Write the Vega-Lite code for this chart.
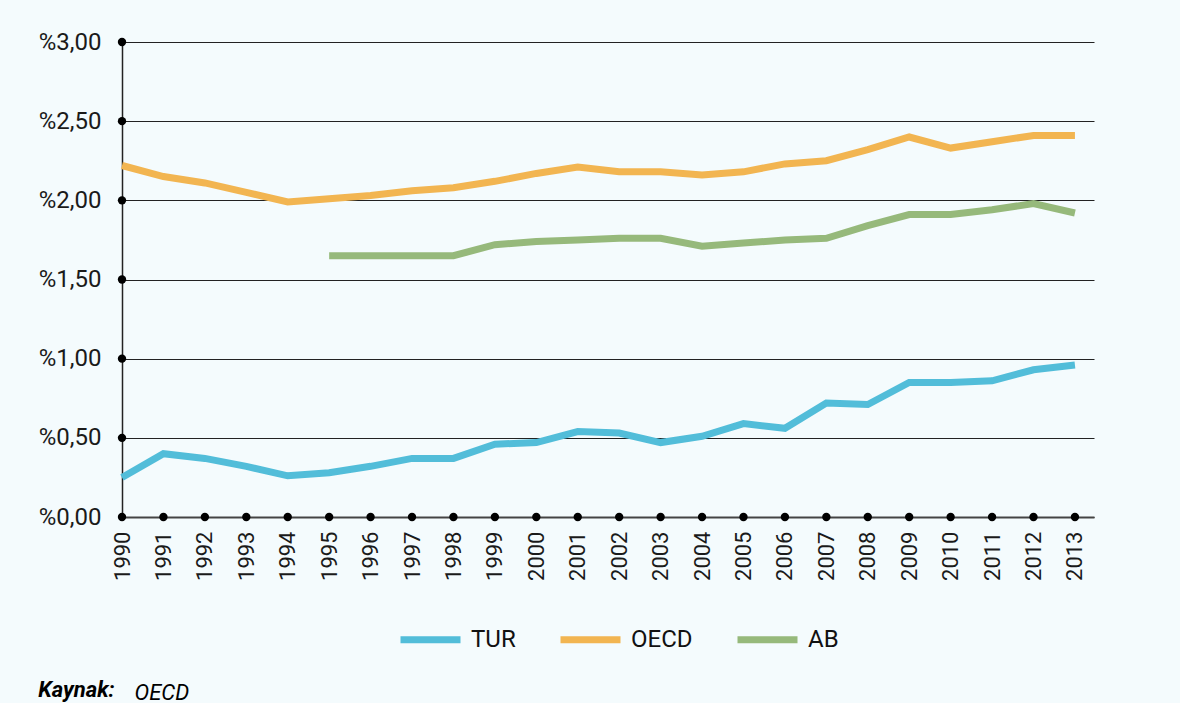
{
  "$schema": "https://vega.github.io/schema/vega-lite/v6.json",
  "width": 972,
  "height": 475,
  "padding": {"left": 38, "top": 30, "right": 86, "bottom": 0},
  "background": "#f4fbfd",
  "config": {
    "view": {"stroke": null},
    "font": "Roboto",
    "axis": {"labelFont": "Roboto", "labelColor": "#1a1a1a"}
  },
  "title": {
    "text": "Kaynak:",
    "orient": "bottom",
    "anchor": "start",
    "frame": "bounds",
    "offset": -23,
    "font": "Roboto",
    "fontSize": 22,
    "fontWeight": "bold",
    "fontStyle": "italic",
    "color": "#000000"
  },
  "datasets": {
    "series": [
      {"year": 1990, "country": "TUR", "value": 0.25},
      {"year": 1991, "country": "TUR", "value": 0.40},
      {"year": 1992, "country": "TUR", "value": 0.37},
      {"year": 1993, "country": "TUR", "value": 0.32},
      {"year": 1994, "country": "TUR", "value": 0.26},
      {"year": 1995, "country": "TUR", "value": 0.28},
      {"year": 1996, "country": "TUR", "value": 0.32},
      {"year": 1997, "country": "TUR", "value": 0.37},
      {"year": 1998, "country": "TUR", "value": 0.37},
      {"year": 1999, "country": "TUR", "value": 0.46},
      {"year": 2000, "country": "TUR", "value": 0.47},
      {"year": 2001, "country": "TUR", "value": 0.54},
      {"year": 2002, "country": "TUR", "value": 0.53},
      {"year": 2003, "country": "TUR", "value": 0.47},
      {"year": 2004, "country": "TUR", "value": 0.51},
      {"year": 2005, "country": "TUR", "value": 0.59},
      {"year": 2006, "country": "TUR", "value": 0.56},
      {"year": 2007, "country": "TUR", "value": 0.72},
      {"year": 2008, "country": "TUR", "value": 0.71},
      {"year": 2009, "country": "TUR", "value": 0.85},
      {"year": 2010, "country": "TUR", "value": 0.85},
      {"year": 2011, "country": "TUR", "value": 0.86},
      {"year": 2012, "country": "TUR", "value": 0.93},
      {"year": 2013, "country": "TUR", "value": 0.96},
      {"year": 1990, "country": "OECD", "value": 2.22},
      {"year": 1991, "country": "OECD", "value": 2.15},
      {"year": 1992, "country": "OECD", "value": 2.11},
      {"year": 1993, "country": "OECD", "value": 2.05},
      {"year": 1994, "country": "OECD", "value": 1.99},
      {"year": 1995, "country": "OECD", "value": 2.01},
      {"year": 1996, "country": "OECD", "value": 2.03},
      {"year": 1997, "country": "OECD", "value": 2.06},
      {"year": 1998, "country": "OECD", "value": 2.08},
      {"year": 1999, "country": "OECD", "value": 2.12},
      {"year": 2000, "country": "OECD", "value": 2.17},
      {"year": 2001, "country": "OECD", "value": 2.21},
      {"year": 2002, "country": "OECD", "value": 2.18},
      {"year": 2003, "country": "OECD", "value": 2.18},
      {"year": 2004, "country": "OECD", "value": 2.16},
      {"year": 2005, "country": "OECD", "value": 2.18},
      {"year": 2006, "country": "OECD", "value": 2.23},
      {"year": 2007, "country": "OECD", "value": 2.25},
      {"year": 2008, "country": "OECD", "value": 2.32},
      {"year": 2009, "country": "OECD", "value": 2.40},
      {"year": 2010, "country": "OECD", "value": 2.33},
      {"year": 2011, "country": "OECD", "value": 2.37},
      {"year": 2012, "country": "OECD", "value": 2.41},
      {"year": 2013, "country": "OECD", "value": 2.41},
      {"year": 1995, "country": "AB", "value": 1.65},
      {"year": 1996, "country": "AB", "value": 1.65},
      {"year": 1997, "country": "AB", "value": 1.65},
      {"year": 1998, "country": "AB", "value": 1.65},
      {"year": 1999, "country": "AB", "value": 1.72},
      {"year": 2000, "country": "AB", "value": 1.74},
      {"year": 2001, "country": "AB", "value": 1.75},
      {"year": 2002, "country": "AB", "value": 1.76},
      {"year": 2003, "country": "AB", "value": 1.76},
      {"year": 2004, "country": "AB", "value": 1.71},
      {"year": 2005, "country": "AB", "value": 1.73},
      {"year": 2006, "country": "AB", "value": 1.75},
      {"year": 2007, "country": "AB", "value": 1.76},
      {"year": 2008, "country": "AB", "value": 1.84},
      {"year": 2009, "country": "AB", "value": 1.91},
      {"year": 2010, "country": "AB", "value": 1.91},
      {"year": 2011, "country": "AB", "value": 1.94},
      {"year": 2012, "country": "AB", "value": 1.98},
      {"year": 2013, "country": "AB", "value": 1.92}
    ],
    "xdots": [
      {"year": 1990, "value": 0}, {"year": 1991, "value": 0}, {"year": 1992, "value": 0},
      {"year": 1993, "value": 0}, {"year": 1994, "value": 0}, {"year": 1995, "value": 0},
      {"year": 1996, "value": 0}, {"year": 1997, "value": 0}, {"year": 1998, "value": 0},
      {"year": 1999, "value": 0}, {"year": 2000, "value": 0}, {"year": 2001, "value": 0},
      {"year": 2002, "value": 0}, {"year": 2003, "value": 0}, {"year": 2004, "value": 0},
      {"year": 2005, "value": 0}, {"year": 2006, "value": 0}, {"year": 2007, "value": 0},
      {"year": 2008, "value": 0}, {"year": 2009, "value": 0}, {"year": 2010, "value": 0},
      {"year": 2011, "value": 0}, {"year": 2012, "value": 0}, {"year": 2013, "value": 0}
    ],
    "ydots": [
      {"year": 1990, "value": 0.5}, {"year": 1990, "value": 1.0}, {"year": 1990, "value": 1.5},
      {"year": 1990, "value": 2.0}, {"year": 1990, "value": 2.5}, {"year": 1990, "value": 3.0}
    ]
  },
  "encoding": {
    "x": {
      "field": "year",
      "type": "quantitative",
      "scale": {"domain": [1990, 2013.46], "nice": false, "zero": false},
      "axis": {
        "title": "OECD",
        "titleX": 12,
        "titleY": 175,
        "titleAlign": "left",
        "titleBaseline": "middle",
        "titleFont": "Roboto",
        "titleFontSize": 22,
        "titleFontStyle": "italic",
        "titleFontWeight": "normal",
        "titleColor": "#000000",
        "values": [1990,1991,1992,1993,1994,1995,1996,1997,1998,1999,2000,2001,2002,2003,2004,2005,2006,2007,2008,2009,2010,2011,2012,2013],
        "format": "d",
        "labelAngle": -90,
        "labelAlign": "right",
        "labelBaseline": "middle",
        "labelFontSize": 22,
        "labelPadding": 14,
        "ticks": false,
        "grid": false,
        "domainColor": "#444444",
        "domainWidth": 2,
        "labelOverlap": false,
        "labelFlush": false
      }
    },
    "y": {
      "field": "value",
      "type": "quantitative",
      "scale": {"domain": [0, 3], "nice": false},
      "axis": {
        "title": null,
        "values": [0, 0.5, 1, 1.5, 2, 2.5, 3],
        "labelExpr": "'%' + replace(format(datum.value, '.2f'), '.', ',')",
        "labelFontSize": 24,
        "labelPadding": 21,
        "ticks": false,
        "grid": true,
        "gridColor": "#222222",
        "gridWidth": 1.2,
        "domainColor": "#222222",
        "domainWidth": 1.5
      }
    }
  },
  "layer": [
    {
      "data": {"name": "series"},
      "mark": {"type": "line", "strokeWidth": 7, "strokeCap": "butt", "strokeJoin": "miter"},
      "encoding": {
        "color": {
          "field": "country",
          "type": "nominal",
          "scale": {"domain": ["TUR", "OECD", "AB"], "range": ["#52bdd9", "#f2b551", "#96b97b"]},
          "legend": {
            "title": null,
            "orient": "none",
            "direction": "horizontal",
            "legendX": 275,
            "legendY": 564,
            "symbolType": "stroke",
            "symbolSize": 3600,
            "symbolStrokeWidth": 7,
            "labelFontSize": 24,
            "labelFont": "Roboto",
            "labelColor": "#111111",
            "labelOffset": 7,
            "columnPadding": 30,
            "padding": 0
          }
        }
      }
    },
    {
      "data": {"name": "xdots"},
      "mark": {"type": "point", "filled": true, "color": "#000000", "size": 70, "opacity": 1}
    },
    {
      "data": {"name": "ydots"},
      "mark": {"type": "point", "filled": true, "color": "#000000", "size": 70, "opacity": 1}
    }
  ]
}
